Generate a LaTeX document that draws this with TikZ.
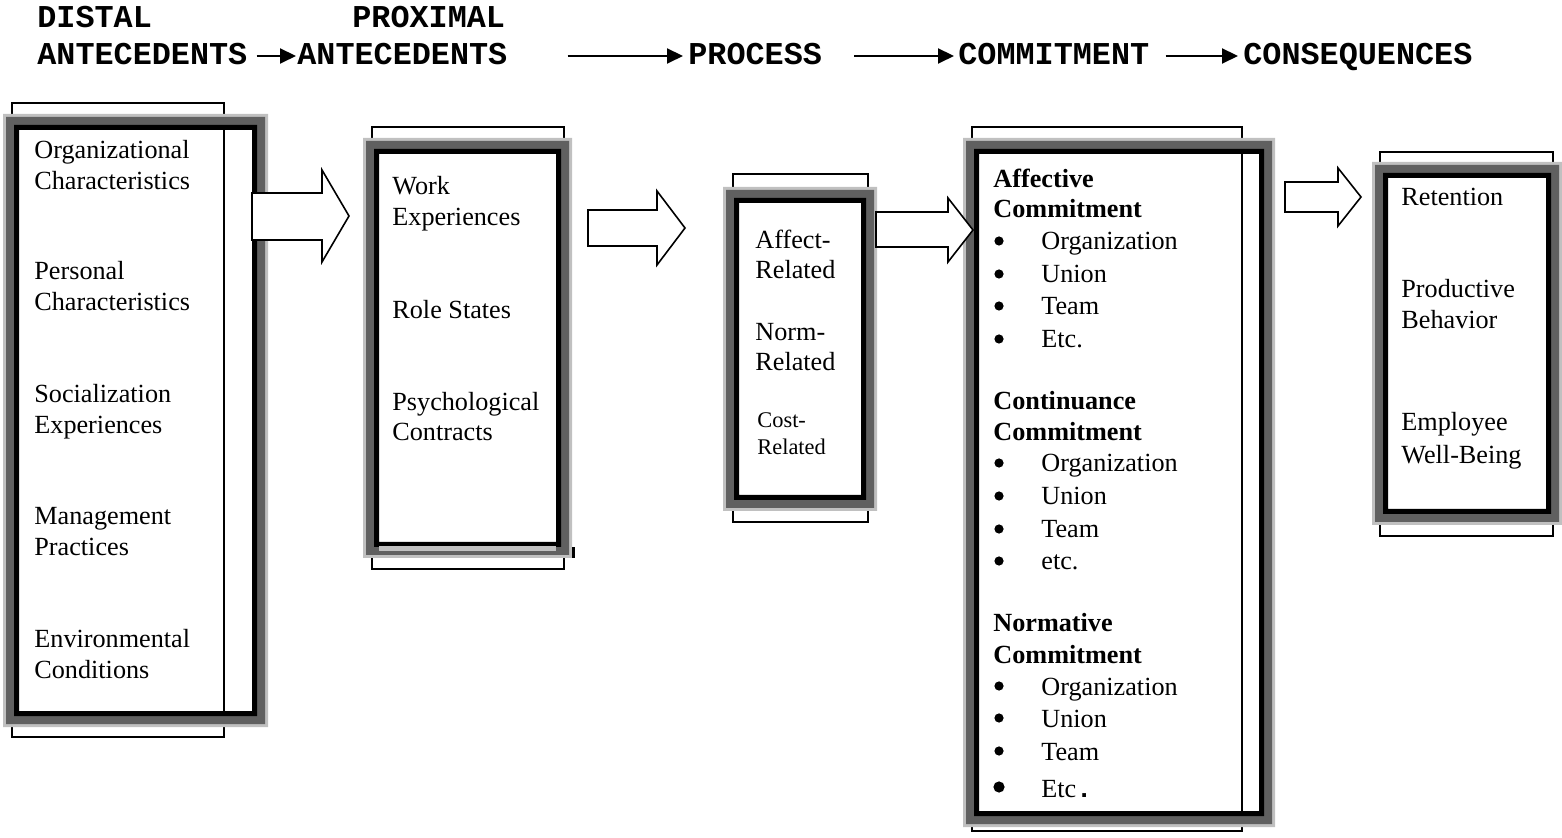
\documentclass[tikz,border=0pt]{standalone}
\usepackage{fontspec}
\setmainfont{Liberation Serif}
\newfontfamily\hdrfont{Liberation Mono}
\usetikzlibrary{arrows.meta}
\definecolor{lg}{HTML}{C0C0C0}
\definecolor{dg}{HTML}{606060}
\newcommand{\myframe}[4]{%
 \fill[lg,even odd rule] (#1,#2) rectangle (#3,#4) ({#1+3},{#2+3}) rectangle ({#3-3},{#4-3});
 \fill[dg,even odd rule] ({#1+3},{#2+3}) rectangle ({#3-3},{#4-3}) ({#1+11},{#2+11}) rectangle ({#3-11},{#4-11});
 \fill[black,even odd rule] ({#1+11},{#2+11}) rectangle ({#3-11},{#4-11}) ({#1+16},{#2+16}) rectangle ({#3-16},{#4-16});
}
\tikzset{
 txt/.style={anchor=base west, inner sep=0pt, font=\fontsize{13.1}{15}\selectfont},
 btxt/.style={txt, font=\fontsize{13.1}{15}\selectfont\bfseries},
 stxt/.style={txt, font=\fontsize{11.2}{13}\selectfont},
 hdr/.style={anchor=base west, inner sep=0pt, font=\fontsize{15.9}{18}\selectfont\hdrfont\bfseries},
 harr/.style={line width=1pt, -{Triangle[length=8pt,width=7.5pt]}},
 thinbox/.style={draw=black, line width=1pt},
 blockarrow/.style={draw=black, fill=white, line width=0.8pt, line join=miter},
 bul/.style={circle, fill=black, inner sep=0pt, minimum size=4.6pt},
 bigbul/.style={bul, minimum size=5.6pt},
}
\begin{document}
\begin{tikzpicture}[x=0.5pt,y=-0.5pt]
\useasboundingbox (0,0) rectangle (1562,838);

% header
\node[hdr] (h1a) at (37,28) {DISTAL};
\node[hdr] (h1b) at (37,65) {ANTECEDENTS};
\node[hdr] (h2a) at (352,28) {PROXIMAL};
\node[hdr] (h2b) at (297,65) {ANTECEDENTS};
\node[hdr] (h3) at (688,65) {PROCESS};
\node[hdr] (h4) at (958,65) {COMMITMENT};
\node[hdr] (h5) at (1243,65) {CONSEQUENCES};
\draw[harr] ([xshift=4.5pt,yshift=4.5pt]h1b.base east) -- ([xshift=-0.5pt,yshift=4.5pt]h2b.base west);
\draw[harr] ([xshift=30pt,yshift=4.5pt]h2b.base east) -- ([xshift=-2.5pt,yshift=4.5pt]h3.base west);
\draw[harr] ([xshift=16pt,yshift=4.5pt]h3.base east) -- ([xshift=-2pt,yshift=4.5pt]h4.base west);
\draw[harr] ([xshift=8pt,yshift=4.5pt]h4.base east) -- ([xshift=-2.5pt,yshift=4.5pt]h5.base west);

% thin background boxes
\draw[thinbox] (12,103) rectangle (224,737);
\draw[thinbox] (372,127) rectangle (564,569);
\draw[thinbox] (733,174) rectangle (868,522);
\draw[thinbox] (972,127) rectangle (1242,831);
\draw[thinbox] (1380,152) rectangle (1553,536);

% frames
\myframe{3}{114}{268}{727}
\myframe{363}{138}{572}{558}
\fill[lg] (379,546) rectangle (556,551);
\fill[black] (572,547) rectangle (575,558);
\myframe{723}{187}{877}{511}
\myframe{963}{138}{1275}{827}
\myframe{1372}{162}{1562}{525}

% block arrows
\draw[blockarrow] (252,193) -- (322,193) -- (322,170) -- (349,216) -- (322,262) -- (322,240) -- (252,240) -- cycle;
\draw[blockarrow] (588,210) -- (657,210) -- (657,191) -- (685,228) -- (657,265) -- (657,246) -- (588,246) -- cycle;
\draw[blockarrow] (876,212) -- (948,212) -- (948,198) -- (973,230) -- (948,262) -- (948,247) -- (876,247) -- cycle;
\draw[blockarrow] (1285,182) -- (1338,182) -- (1338,168) -- (1361,197) -- (1338,226) -- (1338,212) -- (1285,212) -- cycle;

% box 1 texts
\node[txt] (d1a) at (34,159) {Organizational};
\node[txt] (d1b) at (34,190) {Characteristics};
\node[txt] (d2a) at (34,280) {Personal};
\node[txt] (d2b) at (34,311) {Characteristics};
\node[txt] (d3a) at (34,403) {Socialization};
\node[txt] (d3b) at (34,434) {Experiences};
\node[txt] (d4a) at (34,525) {Management};
\node[txt] (d4b) at (34,556) {Practices};
\node[txt] (d5a) at (34,647) {Environmental};
\node[txt] (d5b) at (34,678) {Conditions};

% box 2 texts
\node[txt] (p1a) at (392,195) {Work};
\node[txt] (p1b) at (392,226) {Experiences};
\node[txt] (p2) at (392,319) {Role States};
\node[txt] (p3a) at (392,411) {Psychological};
\node[txt] (p3b) at (392,441) {Contracts};

% box 3 texts
\node[txt] (r1a) at (755,249) {Affect-};
\node[txt] (r1b) at (755,279) {Related};
\node[txt] (r2a) at (755,341) {Norm-};
\node[txt] (r2b) at (755,371) {Related};
\node[stxt] (r3a) at (757,428) {Cost-};
\node[stxt] (r3b) at (757,455) {Related};

% box 4 texts
\node[btxt] (ca1) at (993,188) {Affective};
\node[btxt] (ca2) at (993,218) {Commitment};
\node[bul] (ba1) at (999,241) {}; \node[txt] (ia1) at (1041,250) {Organization};
\node[bul] (ba2) at (999,274) {}; \node[txt] (ia2) at (1041,283) {Union};
\node[bul] (ba3) at (999,306) {}; \node[txt] (ia3) at (1041,315) {Team};
\node[bul] (ba4) at (999,339) {}; \node[txt] (ia4) at (1041,348) {Etc.};
\node[btxt] (cc1) at (993,410) {Continuance};
\node[btxt] (cc2) at (993,441) {Commitment};
\node[bul] (bc1) at (999,463) {}; \node[txt] (ic1) at (1041,472) {Organization};
\node[bul] (bc2) at (999,496) {}; \node[txt] (ic2) at (1041,505) {Union};
\node[bul] (bc3) at (999,529) {}; \node[txt] (ic3) at (1041,538) {Team};
\node[bul] (bc4) at (999,561) {}; \node[txt] (ic4) at (1041,570) {etc.};
\node[btxt] (cn1) at (993,632) {Normative};
\node[btxt] (cn2) at (993,663) {Commitment};
\node[bul] (bn1) at (999,686) {}; \node[txt] (in1) at (1041,695) {Organization};
\node[bul] (bn2) at (999,718) {}; \node[txt] (in2) at (1041,727) {Union};
\node[bul] (bn3) at (999,751) {}; \node[txt] (in3) at (1041,760) {Team};
\node[bigbul] (bn4) at (999,787) {}; \node[txt] (in4) at (1041,797) {Etc{\hdrfont\bfseries .}};

% box 5 texts
\node[txt] (q1) at (1401,206) {Retention};
\node[txt] (q2a) at (1401,298) {Productive};
\node[txt] (q2b) at (1401,329) {Behavior};
\node[txt] (q3a) at (1401,431) {Employee};
\node[txt] (q3b) at (1401,464) {Well-Being};
\end{tikzpicture}
\end{document}
